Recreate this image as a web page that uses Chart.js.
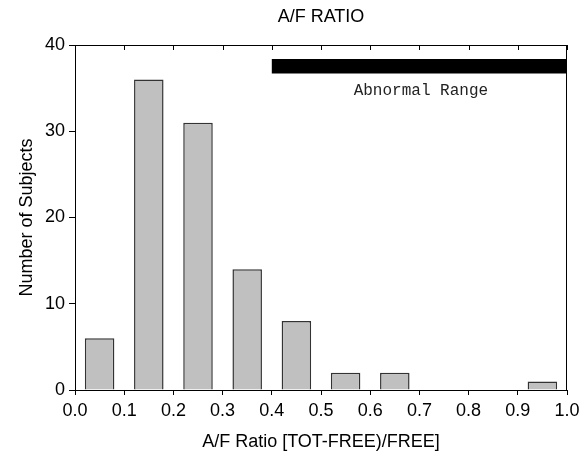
<!DOCTYPE html>
<html>
<head>
<meta charset="utf-8">
<title>A/F Ratio</title>
<script src="https://cdn.jsdelivr.net/npm/chart.js@4.4.1/dist/chart.umd.min.js"></script>
<style>
    body { margin: 0; background: #fff; }
    #chartWrap { width: 587px; height: 455px; }
</style>
</head>
<body>
<div id="chartWrap">
    <canvas id="ratioChart" width="587" height="455"></canvas>
</div>
<script>
// histogram bins (bin centres) and counts
var binCenters = [0.05, 0.15, 0.25, 0.35, 0.45, 0.55, 0.65, 0.75, 0.85, 0.95];
var subjectCounts = [6, 36, 31, 14, 8, 2, 2, 0, 0, 1];
var xTicks = [0.0, 0.1, 0.2, 0.3, 0.4, 0.5, 0.6, 0.7, 0.8, 0.9, 1.0];
var yTicks = [0, 10, 20, 30, 40];

// abnormal range marker
var abnormalRangeX = [0.4, 1.0];
var abnormalRangeY = [37.55, 37.55];
var abnormalLabel = 'Abnormal Range';
var abnormalLabelAt = [0.703, 34.7];

var FONT = "'Liberation Sans', Arial, Helvetica, sans-serif";

var histogramData = binCenters.map(function (x, i) {
    return { x: x, y: subjectCounts[i] };
});
var rangeData = abnormalRangeX.map(function (x, i) {
    return { x: x, y: abnormalRangeY[i] };
});

// frame on top / right + inward ticks on top, and the range label
var framePlugin = {
    id: 'framePlugin',
    afterDraw: function (chart) {
        var ctx = chart.ctx;
        var a = chart.chartArea;
        var xs = chart.scales.x;
        var ys = chart.scales.y;
        ctx.save();
        ctx.strokeStyle = '#000';
        ctx.lineWidth = 1;
        ctx.beginPath();
        ctx.moveTo(a.left, a.top + 0.5);
        ctx.lineTo(a.right, a.top + 0.5);
        ctx.moveTo(a.right - 0.5, a.top);
        ctx.lineTo(a.right - 0.5, a.bottom);
        xTicks.forEach(function (t) {
            var px = Math.round(xs.getPixelForValue(t)) + 0.5;
            ctx.moveTo(px, a.top);
            ctx.lineTo(px, a.top + 5);
        });
        ctx.stroke();

        ctx.fillStyle = '#222';
        ctx.font = "16px 'Liberation Mono', 'Courier New', monospace";
        ctx.textAlign = 'center';
        ctx.textBaseline = 'middle';
        ctx.fillText(abnormalLabel, xs.getPixelForValue(abnormalLabelAt[0]), ys.getPixelForValue(abnormalLabelAt[1]));
        ctx.restore();
    }
};

Chart.defaults.font.family = FONT;
Chart.defaults.font.size = 18;
Chart.defaults.color = '#000';

var ctx = document.getElementById('ratioChart').getContext('2d');
var ratioChart = new Chart(ctx, {
    type: 'bar',
    data: {
        datasets: [
            {
                label: 'Number of Subjects',
                data: histogramData,
                backgroundColor: '#c0c0c0',
                borderColor: '#333',
                borderWidth: 1.5,
                borderSkipped: 'start',
                barPercentage: 0.6,
                categoryPercentage: 1.0,
                order: 2
            },
            {
                type: 'line',
                label: 'Abnormal Range',
                data: rangeData,
                borderColor: '#000',
                borderWidth: 14.5,
                borderCapStyle: 'butt',
                pointRadius: 0,
                fill: false,
                order: 1
            }
        ]
    },
    options: {
        responsive: false,
        animation: false,
        layout: { padding: { left: 0, right: 20, top: 0, bottom: 0 } },
        plugins: {
            legend: { display: false },
            tooltip: { enabled: false },
            title: {
                display: true,
                text: 'A/F RATIO',
                fullSize: false,
                font: { size: 18, weight: 'normal' },
                padding: { top: 6, bottom: 17.4 }
            }
        },
        scales: {
            x: {
                type: 'linear',
                min: 0,
                max: 1,
                offset: false,
                afterFit: function (s) { s.height = 65; },
                afterBuildTicks: function (s) {
                    s.ticks = xTicks.map(function (v) { return { value: v }; });
                },
                ticks: {
                    padding: 5,
                    maxRotation: 0,
                    autoSkip: false,
                    callback: function (v) { return Number(v).toFixed(1); }
                },
                grid: { drawOnChartArea: false, offset: false, tickLength: 5, color: '#000' },
                border: { display: true, color: '#000', width: 1 },
                title: {
                    display: true,
                    text: 'A/F Ratio [TOT-FREE)/FREE]',
                    padding: { top: 2, bottom: 2.5 }
                }
            },
            y: {
                min: 0,
                max: 40,
                afterFit: function (s) { s.width = 75; },
                afterBuildTicks: function (s) {
                    s.ticks = yTicks.map(function (v) { return { value: v }; });
                },
                ticks: { padding: 4 },
                grid: { drawOnChartArea: false, tickLength: 6, color: '#000' },
                border: { display: true, color: '#000', width: 1 },
                title: {
                    display: true,
                    text: 'Number of Subjects',
                    padding: { top: 16, bottom: 2 }
                }
            }
        }
    },
    plugins: [framePlugin]
});
</script>
</body>
</html>
